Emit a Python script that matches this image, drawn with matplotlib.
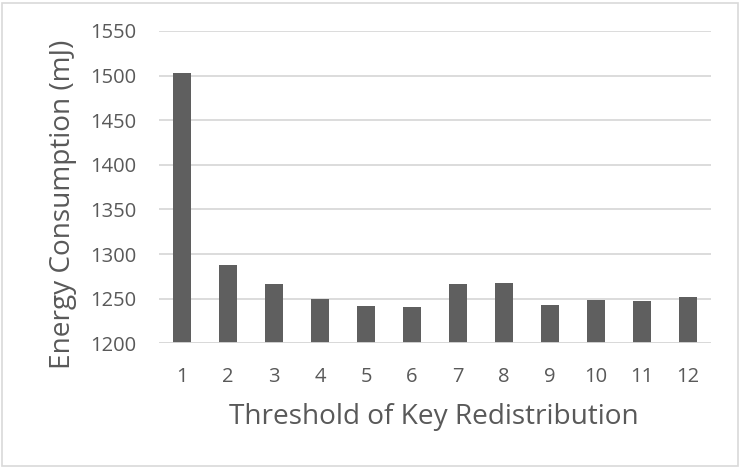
import matplotlib
matplotlib.use("Agg")
import matplotlib.pyplot as plt
from matplotlib.patches import Rectangle

categories = ["1", "2", "3", "4", "5", "6", "7", "8", "9", "10", "11", "12"]
energy = [1503, 1288, 1266, 1250, 1242, 1241, 1266, 1268, 1243, 1248, 1247, 1252]
yticks = [1200, 1250, 1300, 1350, 1400, 1450, 1500, 1550]

plt.rcParams['font.family'] = ['Open Sans', 'DejaVu Sans']
text_c = '#595959'
grid_c = '#d9d9d9'

fig = plt.figure(figsize=(7.41, 4.69), dpi=100)
ax = fig.add_axes([159/741, 1-343.3/469, 552/741, 312.3/469])
x = list(range(len(categories)))
ax.bar(x, [v - 1200 for v in energy], bottom=1200, width=0.40, color='#5f5f5f', zorder=3)
ax.set_xlim(-0.5, len(categories) - 0.5)
ax.set_ylim(1200, 1550)
ax.set_yticks(yticks)
ax.set_yticklabels([str(t) for t in yticks])
ax.set_xticks(x)
ax.set_xticklabels(categories)
for s in ax.spines.values():
    s.set_visible(False)
ax.grid(axis='y', color=grid_c, linewidth=1.3, zorder=0)
ax.axhline(1200, color=grid_c, linewidth=1.3, zorder=4)
ax.tick_params(axis='both', length=0, labelsize=14.5, labelcolor=text_c)
ax.tick_params(axis='y', pad=16)
ax.tick_params(axis='x', pad=17)
ax.text(0.4977, -0.236, "Threshold of Key Redistribution", transform=ax.transAxes,
        ha='center', va='center', fontsize=20.2, color=text_c)
ax.text(-0.174, 0.446, "Energy Consumption (mJ)", transform=ax.transAxes,
        ha='center', va='center', rotation=90, fontsize=20.2, color=text_c)

fig.patches.append(Rectangle((2/741, 3/469), 736/741, 463/469, transform=fig.transFigure,
                             fill=False, edgecolor=grid_c, linewidth=1.2))
fig.savefig("out.png", dpi=100)
